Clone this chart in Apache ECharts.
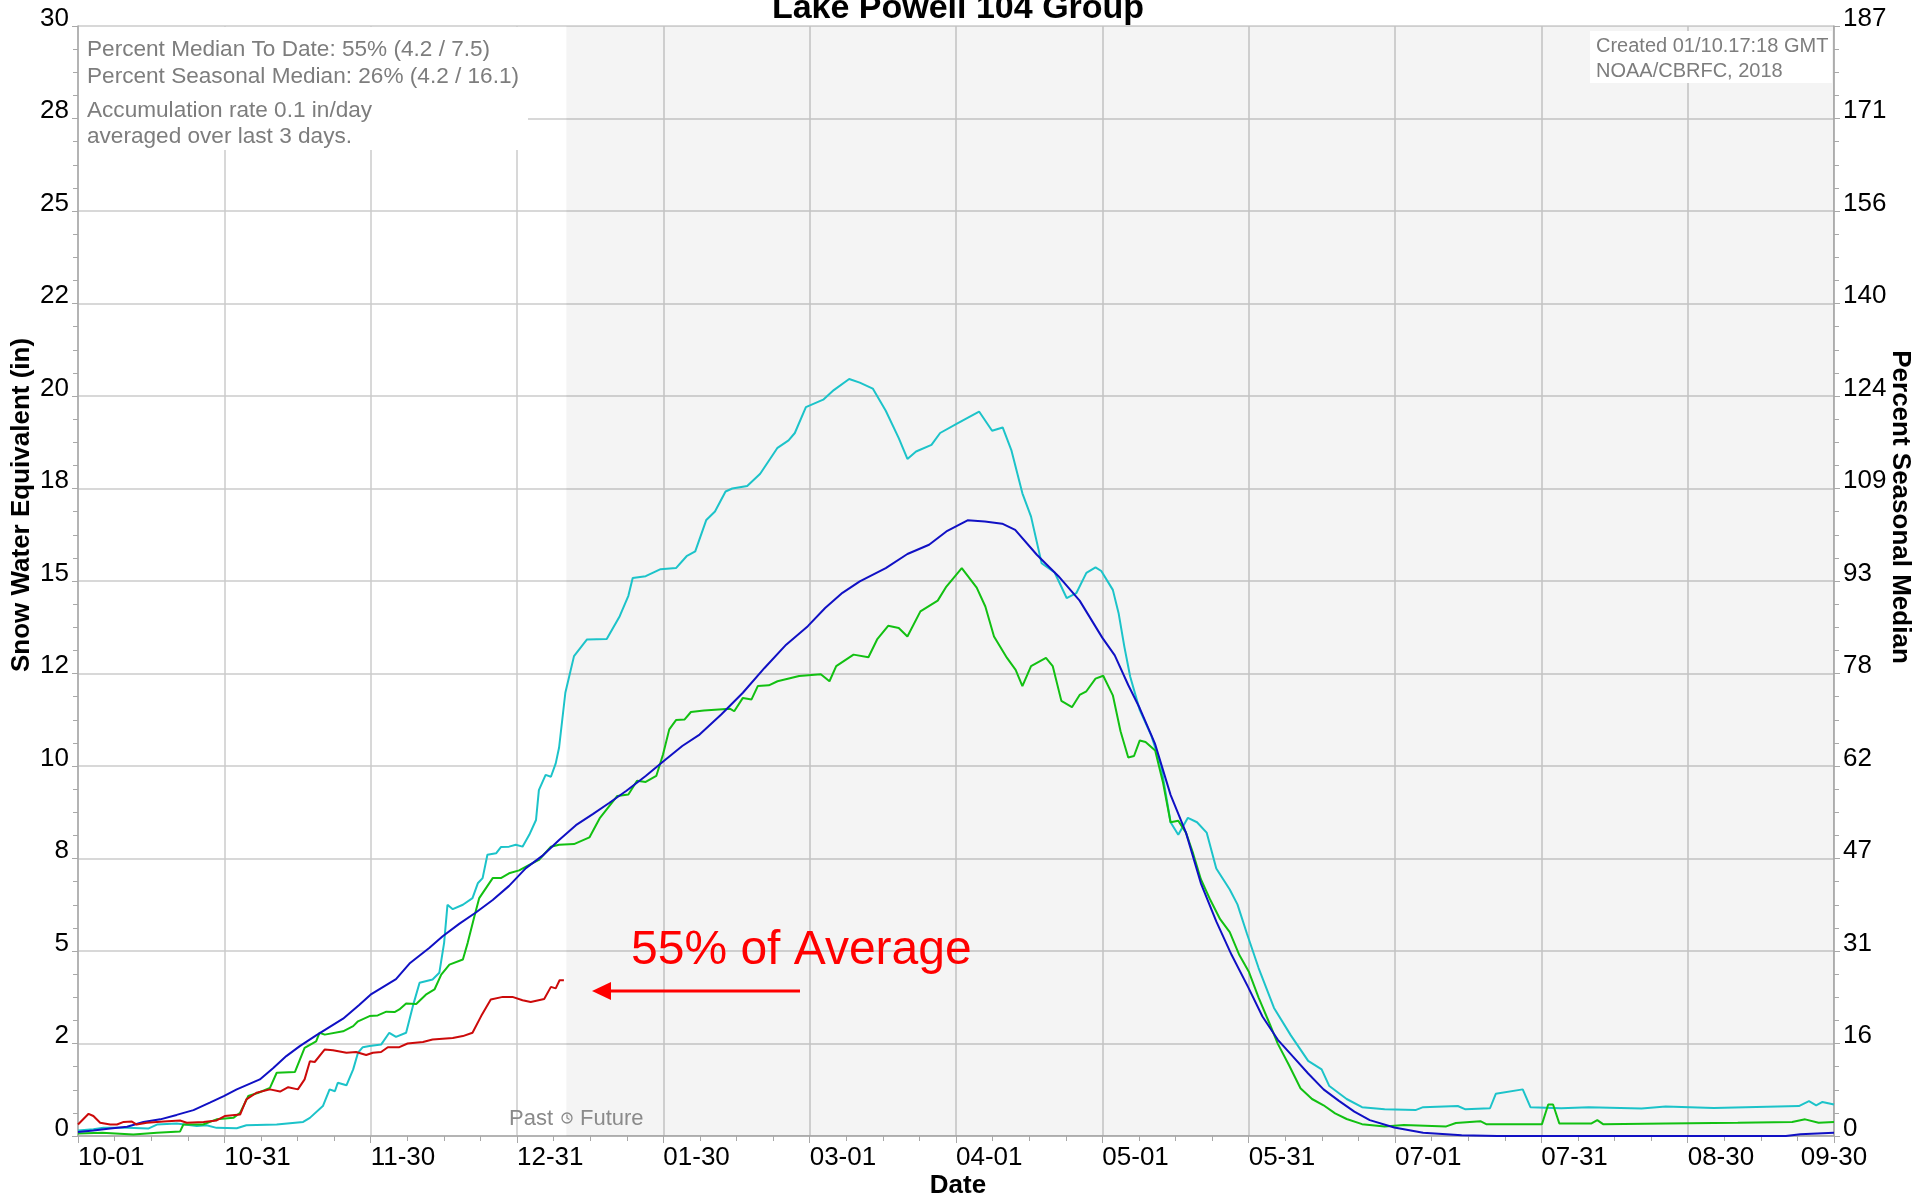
<!DOCTYPE html>
<html>
<head>
<meta charset="utf-8">
<title>Lake Powell 104 Group</title>
<script src="https://cdn.jsdelivr.net/npm/echarts@6/dist/echarts.min.js"></script>
<style>
  html, body { margin: 0; padding: 0; background: #fff; }
  #chart { width: 1920px; height: 1203px; }
</style>
</head>
<body>
<div id="chart"></div>
<script>
// x = day of the water year (0 = Oct 1), y = snow water equivalent in inches
const xTickLabels = ['10-01', '10-31', '11-30', '12-31', '01-30', '03-01', '04-01',
  '05-01', '05-31', '07-01', '07-31', '08-30', '09-30'];
const sweTickLabels = ['0', '2', '5', '8', '10', '12', '15', '18', '20', '22', '25', '28', '30'];
const pctTickLabels = ['0', '16', '31', '47', '62', '78', '93', '109', '124', '140', '156', '171', '187'];
const todayDay = 101.5;

// current water year (red)
const currentYear = [[0,0.31],[2.2,0.6],[3.2,0.54],[4.6,0.36],[6.7,0.31],[8.1,0.31],[9.5,0.38],[11.2,0.39],
  [12.2,0.31],[14.3,0.36],[17.8,0.39],[21.2,0.42],[22.6,0.36],[26.1,0.38],[28.8,0.42],[30.5,0.54],[33.7,0.58],
  [35,0.99],[37.1,1.17],[39.9,1.26],[42,1.2],[43.7,1.32],[45.7,1.26],[47.1,1.53],[48.2,2.02],[49.2,2.0],
  [51.3,2.34],[53,2.32],[55.8,2.25],[57.8,2.27],[59.9,2.19],[61.3,2.25],[63,2.27],[64.4,2.4],[66.8,2.4],
  [68.5,2.5],[71.7,2.54],[73.7,2.61],[77.9,2.65],[80,2.7],[82,2.79],[83.8,3.24],[85.8,3.69],[88.3,3.76],
  [90.3,3.76],[92.4,3.67],[94.1,3.62],[96.9,3.7],[98.3,4.03],[99.3,3.99],[100.1,4.21],[101,4.21]];

// median (blue)
const median = [[0,0.11],[3.2,0.15],[6.7,0.2],[10.2,0.25],[13.6,0.38],[17.1,0.45],[20.5,0.57],[24,0.7],
  [27.4,0.9],[30.3,1.08],[33,1.26],[37.8,1.53],[40.6,1.84],[43.3,2.16],[46.1,2.43],[49.5,2.72],[55.1,3.17],
  [58.5,3.55],[60.8,3.82],[66.1,4.24],[68.9,4.66],[73,5.08],[75.8,5.4],[79.3,5.74],[82.7,6.04],[86.2,6.38],
  [89.6,6.76],[93.1,7.24],[96.5,7.57],[100,8.0],[103.5,8.4],[107,8.7],[110.4,9.0],[114,9.33],[118,9.73],
  [121.7,10.13],[125.6,10.54],[129.2,10.85],[133.7,11.39],[138.2,11.98],[142.7,12.65],[147.2,13.28],
  [151.7,13.78],[155.3,14.27],[158.9,14.68],[162.5,14.99],[167.9,15.35],[172.4,15.73],[176.9,15.98],
  [180.5,16.34],[184.9,16.64],[188.5,16.61],[192.1,16.55],[194.8,16.38],[199.3,15.71],[203.8,15.13],
  [208.2,14.47],[212.9,13.47],[215.5,12.99],[218.3,12.19],[220.7,11.56],[223.9,10.59],[227.1,9.22],
  [230.3,8.2],[233.4,6.83],[236.6,5.8],[239.8,4.89],[243.2,4.03],[246.2,3.23],[249.4,2.6],[252.5,2.15],
  [255.7,1.69],[258.9,1.26],[262.1,0.95],[265.3,0.66],[268.5,0.43],[273.6,0.23],[279.6,0.09],[287.6,0.02],
  [295,0],[355,0],[358,0.05],[365,0.09]];

// high snow year (cyan)
const cyanYear = [[0,0.15],[3.2,0.18],[5.3,0.22],[10.2,0.22],[14.6,0.2],[16.4,0.31],[20.5,0.34],[24.7,0.27],
  [26.7,0.29],[28.8,0.22],[33,0.21],[35,0.29],[41.3,0.31],[46.8,0.38],[48.2,0.49],[50.9,0.81],[52.3,1.26],
  [53.4,1.21],[54,1.44],[55.8,1.37],[57.2,1.8],[58.2,2.25],[59.2,2.4],[60.6,2.43],[63,2.47],[64.7,2.79],
  [66.1,2.68],[68.2,2.79],[69.6,3.51],[71,4.14],[73.7,4.23],[75.1,4.41],[76.1,5.22],[76.8,6.25],[77.9,6.13],
  [80,6.25],[82,6.43],[83.1,6.83],[84.1,6.97],[85.1,7.6],[86.9,7.64],[87.9,7.81],[89.6,7.82],[91,7.87],
  [92.4,7.82],[93.8,8.14],[95.2,8.54],[95.8,9.35],[97.2,9.76],[98.3,9.71],[99.3,10.07],[100,10.5],
  [101.3,11.98],[103.1,12.97],[105.8,13.42],[109.9,13.43],[112.6,14.05],[114.4,14.6],[115.3,15.08],
  [118,15.13],[121.1,15.32],[124.3,15.35],[126.5,15.67],[128.3,15.8],[130.6,16.65],[132.4,16.88],
  [134.6,17.42],[136,17.5],[139.1,17.57],[141.8,17.9],[145.4,18.6],[147.7,18.8],[149,19.0],[151.3,19.7],
  [154.9,19.9],[157.1,20.16],[160.3,20.46],[162.5,20.36],[165.2,20.2],[167.9,19.6],[170.6,18.86],
  [172.4,18.3],[174.2,18.5],[177.4,18.68],[179.2,19.0],[182.8,19.26],[187.3,19.58],[190,19.06],
  [192.2,19.15],[194,18.54],[196.3,17.37],[198.1,16.74],[200.3,15.48],[203,15.23],[205.5,14.54],
  [207.5,14.67],[209.6,15.22],[211.5,15.37],[212.7,15.27],[215.1,14.76],[216.3,14.13],[217.5,13.22],
  [218.7,12.42],[220.7,11.51],[223.1,10.82],[225.1,10.02],[227.1,8.48],[228.7,8.14],[230.7,8.6],
  [232.6,8.48],[234.6,8.2],[236.6,7.23],[239.4,6.66],[241,6.26],[243,5.46],[245.4,4.54],[248.6,3.46],
  [252.1,2.72],[255.7,2.03],[258.5,1.8],[260.1,1.35],[263.7,1.0],[266.9,0.78],[271.6,0.72],[278,0.7],
  [279.6,0.78],[286.8,0.81],[288.4,0.72],[293.5,0.75],[294.7,1.14],[300.3,1.26],[301.9,0.78],[308.3,0.75],
  [314,0.78],[325,0.74],[330,0.8],[340,0.76],[357.7,0.81],[359.8,0.94],[361.3,0.83],[362.6,0.92],[365,0.85]];

// other year (green)
const greenYear = [[0,0.07],[5,0.09],[11.5,0.04],[16.4,0.09],[21.2,0.12],[21.9,0.31],[26,0.31],[28.8,0.45],
  [32.3,0.49],[33.7,0.63],[35.4,1.08],[37.5,1.17],[39.9,1.3],[41.3,1.71],[45.1,1.73],[47.1,2.38],[49.5,2.56],
  [50.2,2.79],[51.3,2.74],[55.1,2.83],[57.2,2.97],[58.2,3.1],[60.6,3.24],[62.3,3.26],[64.1,3.36],[65.8,3.35],
  [66.8,3.42],[68.2,3.58],[70.3,3.57],[72.3,3.82],[74.1,3.96],[75.5,4.36],[77.2,4.63],[80,4.77],[81,5.22],
  [82.4,5.94],[83.4,6.43],[86.2,6.97],[87.9,6.97],[89.6,7.1],[91.7,7.18],[93.8,7.33],[95.8,7.46],[98.3,7.82],
  [100,7.87],[103.1,7.89],[106.3,8.07],[108.5,8.6],[112.1,9.19],[114.4,9.23],[116.2,9.6],[118,9.57],
  [120.2,9.73],[121.6,10.31],[122.9,10.99],[124.3,11.24],[126.1,11.26],[127.4,11.46],[130.1,11.5],
  [135.5,11.55],[136.4,11.48],[138.2,11.84],[140,11.8],[141.3,12.16],[143.6,12.18],[145.4,12.29],
  [149.9,12.43],[154.4,12.48],[156.2,12.29],[157.6,12.7],[161.2,13.01],[164.3,12.94],[166.1,13.42],
  [168.4,13.79],[170.6,13.73],[172.4,13.5],[175.1,14.18],[178.7,14.47],[180.5,14.85],[183.7,15.35],
  [186.8,14.82],[188.6,14.31],[190.4,13.5],[193.1,12.92],[194.9,12.6],[196.3,12.16],[198.1,12.7],
  [201.2,12.92],[202.6,12.7],[204.4,11.76],[206.6,11.59],[208.2,11.92],[209.6,12.02],[211.5,12.36],
  [213.1,12.44],[215.1,11.91],[216.7,10.94],[218.3,10.23],[219.5,10.27],[220.7,10.69],[221.9,10.65],
  [223.9,10.42],[225.5,9.57],[227.1,8.48],[228.7,8.52],[230.3,8.2],[231.8,7.63],[233.4,6.94],[235.4,6.37],
  [237.4,5.86],[239.4,5.51],[241.4,4.89],[243.4,4.43],[245.4,3.74],[247.8,3.0],[249.4,2.49],[251.7,1.92],
  [254.1,1.29],[256.5,1.0],[258.9,0.83],[261.3,0.61],[263.7,0.46],[266.9,0.32],[271.6,0.26],[275.6,0.3],
  [284.4,0.26],[286.4,0.35],[291.5,0.4],[292.7,0.32],[304.3,0.32],[305.6,0.85],[306.6,0.85],[307.9,0.34],
  [314.6,0.34],[315.8,0.43],[317,0.32],[330,0.34],[345,0.36],[356.3,0.38],[359,0.45],[361.8,0.36],[365,0.38]];

const FONT = "'Liberation Sans', Arial, sans-serif";
const NARROW = "'Liberation Sans Narrow', 'Arial Narrow', 'Liberation Sans', sans-serif";
const GRID = '#cbcbcb';
const AXIS = '#a8a8a8';

const chart = echarts.init(document.getElementById('chart'), null, { renderer: 'canvas' });

const xStep = 365 / 12;

function lineSeries(name, data, color, extra) {
  return Object.assign({
    name: name,
    type: 'line',
    data: data,
    showSymbol: false,
    symbol: 'none',
    lineStyle: { color: color, width: 2 },
    itemStyle: { color: color },
    z: 3
  }, extra || {});
}

function yAxisBase(labels, position) {
  return {
    type: 'value',
    position: position,
    min: 0,
    max: 30,
    interval: 2.5,
    axisLine: { show: true, lineStyle: { color: AXIS, width: 1.5 } },
    axisTick: { show: true, length: 6, lineStyle: { color: AXIS } },
    minorTick: { show: true, splitNumber: 4, length: 5, lineStyle: { color: AXIS } },
    splitLine: { show: position === 'left', lineStyle: { color: GRID, width: 1.5 } },
    axisLabel: {
      margin: 9,
      fontFamily: NARROW,
      fontSize: 26,
      color: '#000',
      verticalAlign: 'bottom',
      lineHeight: 15,
      formatter: function (v) { return labels[Math.round(v / 2.5)]; }
    }
  };
}

const option = {
  animation: false,
  backgroundColor: '#fff',
  grid: { left: 78, right: 86, top: 26, bottom: 67, containLabel: false },
  xAxis: {
    type: 'value',
    min: 0,
    max: 365,
    interval: xStep,
    axisLine: { show: true, onZero: false, lineStyle: { color: AXIS, width: 1.5 } },
    axisTick: { show: true, length: 7, lineStyle: { color: AXIS } },
    minorTick: { show: true, splitNumber: 4, length: 5, lineStyle: { color: AXIS } },
    splitLine: { show: true, lineStyle: { color: GRID, width: 1.5 } },
    axisLabel: {
      margin: 9,
      align: 'left',
      alignMaxLabel: 'center',
      showMinLabel: true,
      showMaxLabel: true,
      hideOverlap: false,
      fontFamily: NARROW,
      fontSize: 26,
      color: '#000',
      formatter: function (v) { return xTickLabels[Math.round(v / xStep)]; }
    }
  },
  yAxis: [yAxisBase(sweTickLabels, 'left'), yAxisBase(pctTickLabels, 'right')],
  series: [
    lineSeries('Future', [[todayDay, 0]], 'rgba(0,0,0,0)', {
      lineStyle: { width: 0 },
      z: 1,
      markArea: {
        silent: true,
        itemStyle: { color: 'rgba(0,0,0,0.045)' },
        data: [[{ xAxis: todayDay }, { xAxis: 365 }]]
      }
    }),
    lineSeries('Cyan year', cyanYear, '#1cc3c9'),
    lineSeries('Green year', greenYear, '#12c012'),
    lineSeries('Median', median, '#1010c4'),
    lineSeries('Current', currentYear, '#cc0a0a')
  ],
  graphic: [
    // title
    { type: 'text', x: 958, y: 9, z: 10,
      style: { text: 'Lake Powell 104 Group', font: 'bold 34px ' + FONT, fill: '#000', align: 'center', verticalAlign: 'middle' } },
    // info box (hides the grid behind)
    { type: 'rect', z: 8, shape: { x: 79, y: 27, width: 449, height: 123 }, style: { fill: '#fff' } },
    { type: 'text', x: 87, y: 50, z: 10,
      style: { text: 'Percent Median To Date: 55% (4.2 / 7.5)', font: '22.6px ' + FONT, fill: '#7d7d7d', verticalAlign: 'middle' } },
    { type: 'text', x: 87, y: 77, z: 10,
      style: { text: 'Percent Seasonal Median: 26% (4.2 / 16.1)', font: '22.6px ' + FONT, fill: '#7d7d7d', verticalAlign: 'middle' } },
    { type: 'text', x: 87, y: 111, z: 10,
      style: { text: 'Accumulation rate 0.1 in/day', font: '22.6px ' + FONT, fill: '#7d7d7d', verticalAlign: 'middle' } },
    { type: 'text', x: 87, y: 137, z: 10,
      style: { text: 'averaged over last 3 days.', font: '22.6px ' + FONT, fill: '#7d7d7d', verticalAlign: 'middle' } },
    // created stamp
    { type: 'rect', z: 8, shape: { x: 1590, y: 31, width: 242, height: 52 }, style: { fill: '#fff' } },
    { type: 'text', x: 1596, y: 46, z: 10,
      style: { text: 'Created 01/10.17:18 GMT', font: '20px ' + FONT, fill: '#7d7d7d', verticalAlign: 'middle' } },
    { type: 'text', x: 1596, y: 71, z: 10,
      style: { text: 'NOAA/CBRFC, 2018', font: '20px ' + FONT, fill: '#7d7d7d', verticalAlign: 'middle' } },
    // axis names
    { type: 'text', x: 22, y: 505, rotation: Math.PI / 2, z: 10,
      style: { text: 'Snow Water Equivalent (in)', font: 'bold 26px ' + FONT, fill: '#000', align: 'center', verticalAlign: 'middle' } },
    { type: 'text', x: 1900, y: 507, rotation: -Math.PI / 2, z: 10,
      style: { text: 'Percent Seasonal Median', font: 'bold 26px ' + FONT, fill: '#000', align: 'center', verticalAlign: 'middle' } },
    { type: 'text', x: 958, y: 1186, z: 10,
      style: { text: 'Date', font: 'bold 26px ' + FONT, fill: '#000', align: 'center', verticalAlign: 'middle' } },
    // past / future marker
    { type: 'text', x: 553, y: 1119, z: 10,
      style: { text: 'Past', font: '22px ' + FONT, fill: '#8a8a8a', align: 'right', verticalAlign: 'middle' } },
    { type: 'circle', z: 10, shape: { cx: 567, cy: 1118, r: 5 }, style: { fill: 'none', stroke: '#8a8a8a', lineWidth: 1.3 } },
    { type: 'polyline', z: 10, shape: { points: [[567, 1114.5], [567, 1118], [569.5, 1119.5]] }, style: { stroke: '#8a8a8a', lineWidth: 1.2, fill: 'none' } },
    { type: 'text', x: 580, y: 1119, z: 10,
      style: { text: 'Future', font: '22px ' + FONT, fill: '#8a8a8a', align: 'left', verticalAlign: 'middle' } },
    // annotation
    { type: 'text', x: 631, y: 951, z: 10,
      style: { text: '55% of Average', font: '48px ' + FONT, fill: '#ff0000', verticalAlign: 'middle',
        shadowColor: 'rgba(0,0,0,0.35)', shadowBlur: 2, shadowOffsetX: 2, shadowOffsetY: 2 } },
    { type: 'line', z: 10, shape: { x1: 800, y1: 991, x2: 606, y2: 991 }, style: { stroke: '#ff0000', lineWidth: 3 } },
    { type: 'polygon', z: 10, shape: { points: [[592, 991], [611, 982], [611, 1000]] }, style: { fill: '#ff0000' } }
  ]
};

chart.setOption(option);
</script>
</body>
</html>
